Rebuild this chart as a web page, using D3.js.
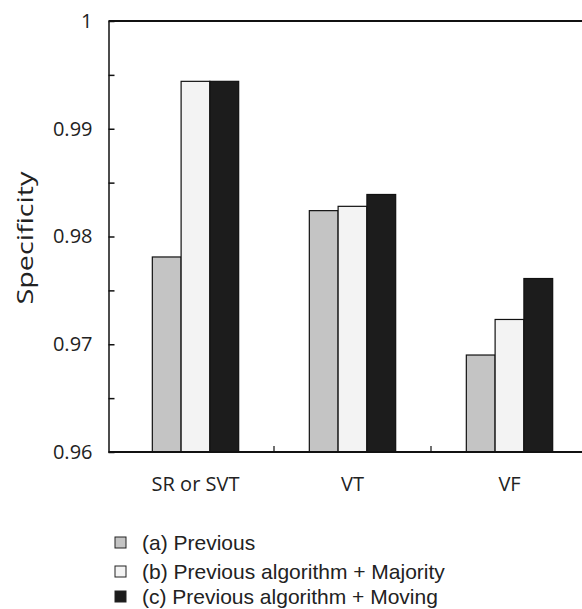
<!DOCTYPE html>
<html>
<head>
<meta charset="utf-8">
<script src="https://cdn.jsdelivr.net/npm/d3@7"></script>
<style>
  body { margin: 0; background: #fff; }
  svg { display: block; }
</style>
</head>
<body>
<div class="canvas"></div>
<script>
// Data
const categories = ["SR or SVT", "VT", "VF"];
const series = ["(a) Previous", "(b) Previous algorithm + Majority", "(c) Previous algorithm + Moving"];
const previous = [0.9781, 0.9824, 0.9690];
const majority = [0.9944, 0.9828, 0.9723];
const moving = [0.9944, 0.9839, 0.9761];
const yTicks = [0.96, 0.965, 0.97, 0.975, 0.98, 0.985, 0.99, 0.995, 1];

const values = [previous, majority, moving];
const fills = ["#c4c4c4", "#f3f3f3", "#1c1c1c"];

const width = 582, height = 609;
const svg = d3.select(".canvas").append("svg")
  .attr("width", width).attr("height", height);

// Scales
const axisX = 108.5;
const x0 = d3.scaleBand().domain(categories).range([117, 588]);
const x1 = d3.scaleBand().domain(series)
  .range([x0.bandwidth() * 0.225, x0.bandwidth() * 0.775]);
const y = d3.scaleLinear().domain([0.96, 1]).range([452, 21]);

// Bars
const groups = svg.append("g").selectAll("g")
  .data(categories).enter().append("g")
  .attr("transform", (d) => `translate(${x0(d)},0)`);

groups.selectAll("rect")
  .data((c, ci) => series.map((s, si) => ({ s, si, v: values[si][ci] })))
  .enter().append("rect")
  .attr("x", (d) => x1(d.s))
  .attr("y", (d) => y(d.v))
  .attr("width", x1.bandwidth())
  .attr("height", (d) => y(0.96) - y(d.v))
  .attr("fill", (d) => fills[d.si])
  .attr("stroke", "#111")
  .attr("stroke-width", 1.2);

// Y axis
const yAxis = d3.axisLeft(y)
  .tickValues(yTicks)
  .tickSizeInner(-6)
  .tickSizeOuter(0)
  .tickPadding(16)
  .tickFormat((d) => (Math.round(d * 1000) % 10 === 0 ? d3.format("")(+d.toFixed(2)) : ""));

const yAxisGroup = svg.append("g")
  .attr("transform", `translate(${axisX},0)`)
  .call(yAxis);
yAxisGroup.selectAll("path, line").attr("stroke", "#111").attr("stroke-width", 1.5);
yAxisGroup.selectAll("text")
  .attr("font-family", "Open Sans")
  .attr("font-size", 20)
  .attr("fill", "#222");

// Top border
svg.append("line")
  .attr("x1", axisX).attr("x2", width)
  .attr("y1", y(1)).attr("y2", y(1))
  .attr("stroke", "#111").attr("stroke-width", 1.8);

// X axis
svg.append("line")
  .attr("x1", axisX).attr("x2", width)
  .attr("y1", y(0.96)).attr("y2", y(0.96))
  .attr("stroke", "#111").attr("stroke-width", 1.8);

svg.append("g").selectAll("line")
  .data(categories.slice(1)).enter().append("line")
  .attr("x1", (d) => x0(d)).attr("x2", (d) => x0(d))
  .attr("y1", y(0.96)).attr("y2", y(0.96) - 6)
  .attr("stroke", "#111").attr("stroke-width", 1.2);

svg.append("g").selectAll("text")
  .data(categories).enter().append("text")
  .attr("x", (d) => x0(d) + x0.bandwidth() / 2)
  .attr("y", 491)
  .attr("text-anchor", "middle")
  .attr("font-family", "Open Sans")
  .attr("font-size", 20)
  .attr("fill", "#222")
  .text((d) => d);

// Y label
svg.append("text")
  .attr("transform", "translate(33,238) rotate(-90)")
  .attr("text-anchor", "middle")
  .attr("font-family", "Open Sans")
  .attr("font-size", 21)
  .attr("textLength", 133)
  .attr("lengthAdjust", "spacingAndGlyphs")
  .attr("fill", "#222")
  .text("Specificity");

// Legend
const legendRows = [550, 579, 604];
const legend = svg.append("g").selectAll("g")
  .data(series).enter().append("g")
  .attr("transform", (d, i) => `translate(115,${legendRows[i]})`);

legend.append("rect")
  .attr("x", 0).attr("y", -13)
  .attr("width", 11).attr("height", 11)
  .attr("fill", (d, i) => fills[i])
  .attr("stroke", "#222").attr("stroke-width", 1);

legend.append("text")
  .attr("x", 27).attr("y", 0)
  .attr("font-family", "Liberation Sans")
  .attr("font-size", 21)
  .attr("fill", "#222")
  .text((d) => d);
</script>
</body>
</html>
